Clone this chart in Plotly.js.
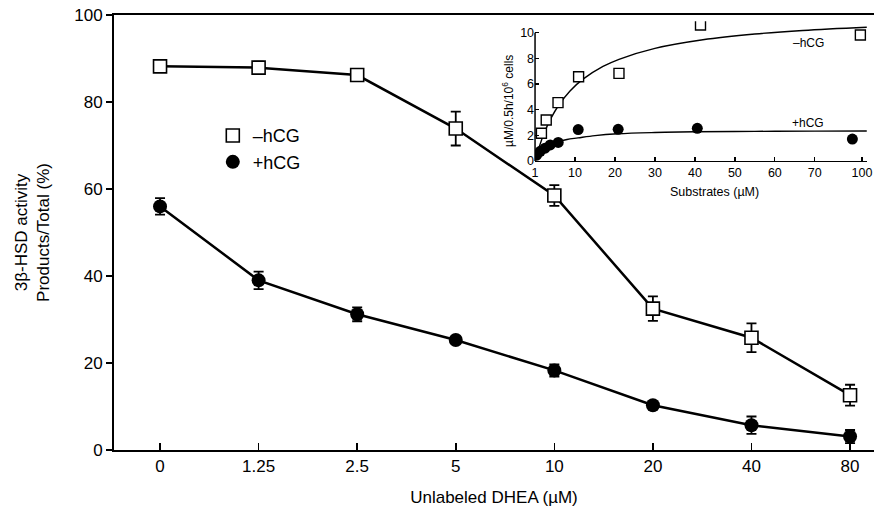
<!DOCTYPE html>
<html>
<head>
<meta charset="utf-8">
<script src="https://cdn.plot.ly/plotly-3.0.1.min.js"></script>
<style>html,body{margin:0;padding:0;background:#fff;}#chart{width:874px;height:507px;}</style>
</head>
<body>
<div id="chart"></div>
<script>
// Main chart data
const categories = ['0', '1.25', '2.5', '5', '10', '20', '40', '80'];
const minusHCG = [88.2, 87.9, 86.2, 73.9, 58.5, 32.5, 25.8, 12.6];
const minusHCGErr = [0.6, 1.4, 0.6, 3.9, 2.4, 2.8, 3.3, 2.4];
const plusHCG = [56.0, 39.0, 31.2, 25.3, 18.3, 10.3, 5.7, 3.1];
const plusHCGErr = [1.9, 2.0, 1.6, 0.6, 1.4, 0.6, 2.0, 1.5];

// Inset data
const insetMinusX = [1.6, 2.8, 5.75, 10.9, 21, 41.4, 81.4];
const insetMinusY = [2.16, 3.2, 4.55, 6.57, 6.83, 10.6, 9.82];
const insetPlusX = [0.4, 1.3, 2.5, 3.8, 5.8, 10.8, 20.8, 40.6, 79.4];
const insetPlusY = [0.45, 0.75, 1.0, 1.25, 1.45, 2.45, 2.47, 2.55, 1.71];
// Fitted curves
const fitMinusX = [0.2, 1, 2, 3, 4, 5.8, 8.75, 12, 17, 21, 30, 42, 55, 67, 83];
const fitMinusY = [0.3, 1.06, 1.95, 2.7, 3.34, 4.29, 5.46, 6.38, 7.37, 7.93, 8.78, 9.45, 9.9, 10.18, 10.43];
const fitPlusX = [0.2, 1, 2, 3, 4, 5.75, 8, 10.75, 15, 20.75, 30, 40, 55, 70, 83];
const fitPlusY = [0.25, 0.6, 0.95, 1.15, 1.3, 1.5, 1.68, 1.8, 1.98, 2.12, 2.22, 2.28, 2.31, 2.33, 2.34];
const insetTickVals = [0, 10, 20, 30, 40, 50, 60, 70, 81.8];
const insetTickText = ['1', '10', '20', '30', '40', '50', '60', '70', '100'];

const FONT = 'Liberation Sans, Arial, Helvetica, sans-serif';

const traces = [
  {
    x: categories, y: minusHCG, type: 'scatter', mode: 'lines+markers', showlegend: false,
    line: {color: '#000', width: 2.5},
    marker: {symbol: 'square', size: 13, color: '#fff', line: {color: '#000', width: 1.6}},
    error_y: {type: 'data', array: minusHCGErr, visible: true, color: '#000', thickness: 1.8, width: 5}
  },
  {
    x: categories, y: plusHCG, type: 'scatter', mode: 'lines+markers', showlegend: false,
    line: {color: '#000', width: 2.5},
    marker: {symbol: 'circle', size: 14, color: '#000'},
    error_y: {type: 'data', array: plusHCGErr, visible: true, color: '#000', thickness: 1.8, width: 5}
  },
  // legend entries
  {
    x: [null], y: [null], type: 'scatter', mode: 'markers', name: '\u2013hCG',
    marker: {symbol: 'square', size: 13, color: '#fff', line: {color: '#000', width: 1.6}}
  },
  {
    x: [null], y: [null], type: 'scatter', mode: 'markers', name: '+hCG',
    marker: {symbol: 'circle', size: 14, color: '#000'}
  },
  // inset
  {
    x: fitMinusX, y: fitMinusY, xaxis: 'x2', yaxis: 'y2', type: 'scatter', mode: 'lines',
    line: {color: '#000', width: 1.4, shape: 'spline'}, showlegend: false
  },
  {
    x: fitPlusX, y: fitPlusY, xaxis: 'x2', yaxis: 'y2', type: 'scatter', mode: 'lines',
    line: {color: '#000', width: 1.4, shape: 'spline'}, showlegend: false
  },
  {
    x: insetMinusX, y: insetMinusY, xaxis: 'x2', yaxis: 'y2', type: 'scatter', mode: 'markers',
    marker: {symbol: 'square', size: 10, color: '#fff', line: {color: '#000', width: 1.4}}, showlegend: false
  },
  {
    x: insetPlusX, y: insetPlusY, xaxis: 'x2', yaxis: 'y2', type: 'scatter', mode: 'markers',
    marker: {symbol: 'circle', size: 11, color: '#000'}, showlegend: false
  }
];

const layout = {
  width: 874, height: 507,
  margin: {l: 114, r: 0, t: 15, b: 57},
  paper_bgcolor: '#fff', plot_bgcolor: 'rgba(0,0,0,0)',
  font: {family: FONT, color: '#000', size: 17},
  showlegend: true,
  legend: {
    x: 0.13, y: 0.765, xanchor: 'left', yanchor: 'top',
    font: {size: 18, family: FONT, color: '#000'},
    bgcolor: 'rgba(0,0,0,0)', itemwidth: 30, tracegroupgap: 0
  },
  xaxis: {
    type: 'category', range: [-0.467, 7.243],
    showline: true, mirror: true, linecolor: '#000', linewidth: 2,
    ticks: 'inside', ticklen: 7, tickwidth: 1.6, tickcolor: '#000',
    showgrid: false, zeroline: false,
    tickfont: {size: 17},
    title: {text: 'Unlabeled DHEA (\u00b5M)', font: {size: 17}, standoff: 18}
  },
  yaxis: {
    range: [0, 100], tickvals: [0, 20, 40, 60, 80, 100],
    showline: true, linecolor: '#000', linewidth: 2,
    ticks: 'outside', ticklen: 6, tickwidth: 1.6, tickcolor: '#000',
    showgrid: false, zeroline: false,
    tickfont: {size: 17},
    title: {text: '3\u03b2-HSD activity<br>Products/Total (%)', font: {size: 17}, standoff: 20}
  },
  xaxis2: {
    domain: [0.554, 0.991], anchor: 'y2', range: [0, 83.1],
    tickvals: insetTickVals, ticktext: insetTickText, ticklabeloverflow: 'allow',
    showline: true, linecolor: '#000', linewidth: 1.5,
    ticks: 'inside', ticklen: 4, tickwidth: 1.3, tickcolor: '#000',
    showgrid: false, zeroline: false,
    tickfont: {size: 12.5}
  },
  yaxis2: {
    domain: [0.6644, 0.9857], anchor: 'x2', range: [0, 10.9],
    tickvals: [0, 2, 4, 6, 8, 10],
    showline: false,
    ticks: 'inside', ticklen: 4, tickwidth: 1.3, tickcolor: '#000',
    showgrid: false, zeroline: false,
    tickfont: {size: 12.5}
  },
  shapes: [
    {type: 'line', xref: 'x2 domain', yref: 'y2', x0: 0, x1: 0, y0: 0, y1: 10,
     line: {color: '#000', width: 1.5}}
  ],
  annotations: [
    {xref: 'x2', yref: 'paper', x: 45, y: (450 - 183) / 435, yanchor: 'top', showarrow: false,
     text: 'Substrates (\u00b5M)', font: {size: 12.5}},
    {xref: 'paper', yref: 'paper', x: (508 - 114) / 760, y: (450 - 101) / 435,
     xanchor: 'center', yanchor: 'middle', textangle: -90, showarrow: false,
     text: '\u00b5M/0.5h/10<sup>6</sup> cells', font: {size: 12}},
    {xref: 'x2', yref: 'y2', x: 68.3, y: 9.2, showarrow: false, text: '\u2013hCG', font: {size: 12}},
    {xref: 'x2', yref: 'y2', x: 68.3, y: 2.96, showarrow: false, text: '+hCG', font: {size: 12}}
  ]
};

Plotly.newPlot('chart', traces, layout, {displayModeBar: false, staticPlot: true});
</script>
</body>
</html>
